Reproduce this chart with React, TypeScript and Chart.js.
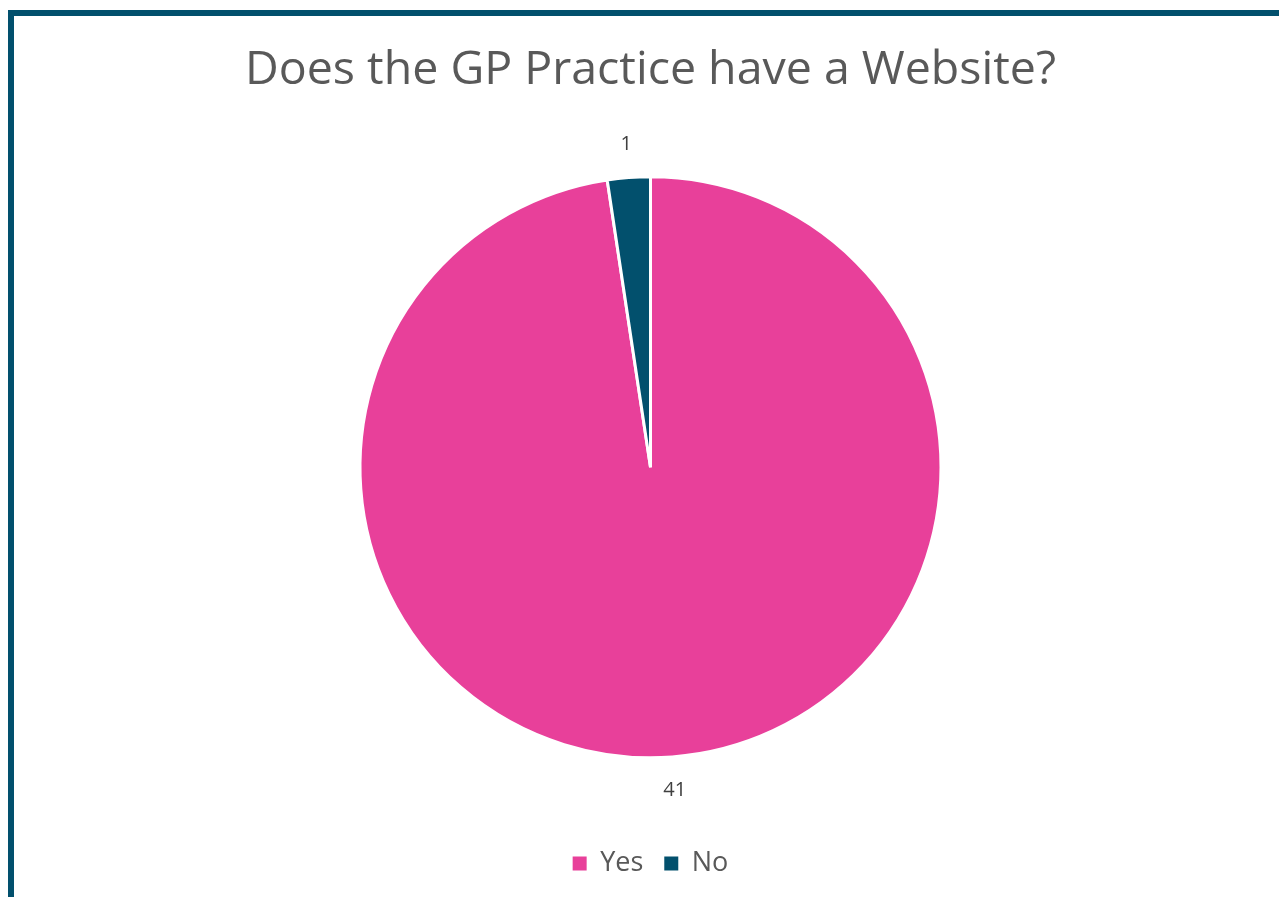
import React, { useEffect, useRef } from "react";
import { Chart, registerables } from "chart.js";

Chart.register(...registerables);

const categories = ["Yes", "No"];
const values = [41, 1];
const colors = ["#E8409A", "#02506D"];
const titleText = "Does the GP Practice have a Website?";

const FONT = "'Open Sans', 'Noto Sans', sans-serif";

const outsideLabels = {
  id: "outsideLabels",
  afterDatasetsDraw(chart: any) {
    const ctx = chart.ctx;
    const meta = chart.getDatasetMeta(0);
    ctx.save();
    ctx.font = `20px ${FONT}`;
    ctx.fillStyle = "#404040";
    ctx.textAlign = "center";
    ctx.textBaseline = "middle";
    meta.data.forEach((arc: any, i: number) => {
      const p = arc.getProps(["x", "y", "startAngle", "endAngle", "outerRadius"], true);
      const mid = (p.startAngle + p.endAngle) / 2;
      const r = p.outerRadius + 33;
      ctx.fillText(String(values[i]), p.x + Math.cos(mid) * r, p.y + Math.sin(mid) * r);
    });
    ctx.restore();
  },
};

export default function App() {
  const ref = useRef<HTMLCanvasElement | null>(null);
  useEffect(() => {
    document.body.style.margin = "0";
    document.body.style.overflow = "hidden";
    const chart = new Chart(ref.current!, {
      type: "pie",
      data: {
        labels: categories,
        datasets: [
          {
            data: values,
            backgroundColor: colors,
            borderColor: "#FFFFFF",
            borderWidth: 3,
          },
        ],
      },
      options: {
        animation: false,
        responsive: false,
        layout: { padding: { left: 22, right: 0, top: 0, bottom: 10 } },
        plugins: {
          tooltip: { enabled: false },
          title: {
            display: true,
            text: titleText,
            color: "#595959",
            font: { family: FONT, size: 46.5, weight: "normal" },
            padding: { top: 43, bottom: 76.5 },
          },
          legend: {
            display: true,
            position: "bottom",
            title: { display: true, text: " ", font: { size: 1 }, padding: { top: 68.5, bottom: 0 } },
            labels: {
              color: "#595959",
              font: { family: FONT, size: 27 },
              boxWidth: 14,
              boxHeight: 14,
              padding: 21,
              generateLabels: (chart: any) =>
                categories.map((c, i) => ({
                  text: c,
                  fillStyle: colors[i],
                  strokeStyle: colors[i],
                  lineWidth: 0,
                  fontColor: "#595959",
                  hidden: false,
                  index: i,
                })),
            },
          },
        },
      },
      plugins: [outsideLabels],
    });
    return () => chart.destroy();
  }, []);
  return (
    <div style={{ position: "fixed", left: 0, top: 0, width: 1279, height: 897, background: "#FFFFFF" }}>
      <div
        style={{
          position: "absolute",
          left: 8,
          top: 10,
          width: 1400,
          height: 1000,
          borderLeft: "6px solid #02506D",
          borderTop: "6px solid #02506D",
          boxSizing: "border-box",
        }}
      />
      <canvas ref={ref} width={1279} height={897} style={{ position: "absolute", left: 0, top: 0 }} />
    </div>
  );
}
